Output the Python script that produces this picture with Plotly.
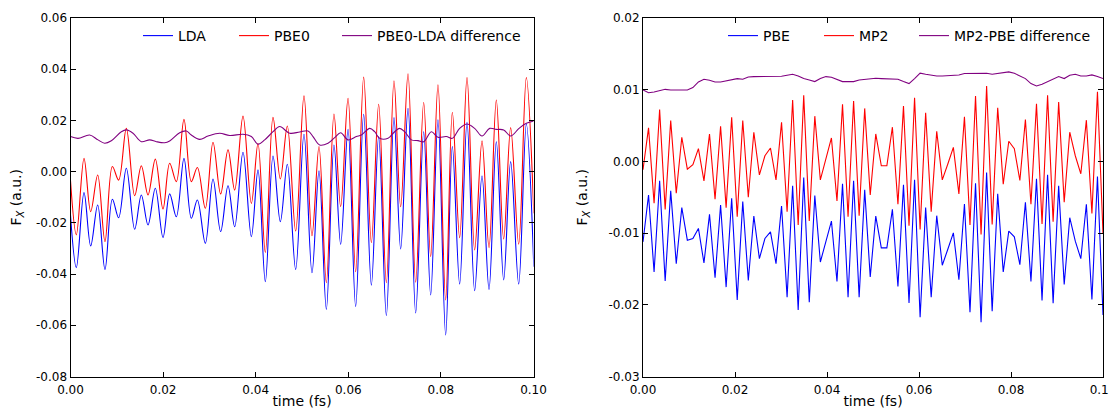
import plotly.graph_objects as go

# ---------------- Left panel: LDA / PBE0 (extrema) -------------
time_left = [0.0, 0.00126, 0.00292, 0.00436, 0.00587, 0.00745, 0.00904, 0.01040,
             0.01206, 0.01386, 0.01530, 0.01674, 0.01832, 0.01998, 0.02142, 0.02286,
             0.02451, 0.02610, 0.02740, 0.02912, 0.03078, 0.03243, 0.03402, 0.03546,
             0.03726, 0.03906, 0.04050, 0.04208, 0.04374, 0.04532, 0.04683, 0.04863,
             0.05043, 0.05216, 0.05367, 0.05526, 0.05691, 0.05835, 0.05994, 0.06159,
             0.06332, 0.06498, 0.06656, 0.06822, 0.06987, 0.07131, 0.07290, 0.07455,
             0.07628, 0.07779, 0.07937, 0.08103, 0.08247, 0.08405, 0.08564, 0.08729,
             0.08888, 0.09039, 0.09197, 0.09356, 0.09507, 0.09680, 0.09845, 0.10006]

lda = [-0.0170, -0.0375, -0.0082, -0.0290, -0.0130, -0.0382, -0.0108, -0.0180,
       0.0013, -0.0225, -0.0091, -0.0208, -0.0065, -0.0257, -0.0087, -0.0176,
       0.0052, -0.0182, -0.0111, -0.0280, -0.0029, -0.0234, -0.0055, -0.0215,
       0.0076, -0.0254, 0.0007, -0.0430, 0.0061, -0.0195, 0.0029, -0.0382,
       0.0146, -0.0395, 0.0003, -0.0538, 0.0104, -0.0284, 0.0165, -0.0527,
       0.0224, -0.0443, 0.0137, -0.0563, 0.0211, -0.0302, 0.0247, -0.0552,
       0.0156, -0.0482, 0.0202, -0.0638, 0.0098, -0.0439, 0.0193, -0.0465,
       -0.0016, -0.0460, 0.0117, -0.0423, 0.0039, -0.0439, 0.0186, -0.0371]

pbe0 = [-0.0035, -0.0247, 0.0052, -0.0156, -0.0013, -0.0273, 0.0020, -0.0033,
        0.0169, -0.0094, 0.0023, -0.0091, 0.0049, -0.0146, 0.0033, -0.0039,
        0.0204, -0.0039, 0.0016, -0.0143, 0.0115, -0.0087, 0.0085, -0.0072,
        0.0217, -0.0124, 0.0111, -0.0316, 0.0212, -0.0029, 0.0178, -0.0232,
        0.0296, -0.0250, 0.0098, -0.0434, 0.0225, -0.0137, 0.0286, -0.0391,
        0.0369, -0.0277, 0.0263, -0.0434, 0.0355, -0.0137, 0.0382, -0.0432,
        0.0270, -0.0332, 0.0339, -0.0501, 0.0232, -0.0258, 0.0367, -0.0306,
        0.0120, -0.0297, 0.0280, -0.0263, 0.0172, -0.0283, 0.0367, -0.0163]

time_diff_left = [0.0, 0.00162, 0.00414, 0.00594, 0.00738, 0.00882, 0.01098, 0.01206,
                  0.01350, 0.01530, 0.01710, 0.01854, 0.02034, 0.02142, 0.02358, 0.02502,
                  0.02610, 0.02790, 0.02970, 0.03222, 0.03438, 0.03726, 0.03906, 0.04050,
                  0.04194, 0.04374, 0.04518, 0.04734, 0.04950, 0.05130, 0.05238, 0.05382,
                  0.05562, 0.05706, 0.05835, 0.05994, 0.06174, 0.06282, 0.06462, 0.06570,
                  0.06678, 0.06858, 0.07002, 0.07110, 0.07218, 0.07362, 0.07506, 0.07628,
                  0.07794, 0.07937, 0.08117, 0.08247, 0.08405, 0.08564, 0.08729, 0.08888,
                  0.09054, 0.09197, 0.09356, 0.09507, 0.09687, 0.09845, 0.10006]

pbe0_lda_diff = [0.0137, 0.0130, 0.0143, 0.0124, 0.0111, 0.0121, 0.0156, 0.0163,
                 0.0150, 0.0117, 0.0124, 0.0117, 0.0113, 0.0120, 0.0152, 0.0159,
                 0.0143, 0.0126, 0.0139, 0.0150, 0.0141, 0.0146, 0.0137, 0.0107,
                 0.0124, 0.0156, 0.0176, 0.0150, 0.0155, 0.0159, 0.0137, 0.0104,
                 0.0111, 0.0133, 0.0152, 0.0124, 0.0137, 0.0143, 0.0169, 0.0156,
                 0.0130, 0.0130, 0.0156, 0.0169, 0.0156, 0.0124, 0.0121, 0.0117,
                 0.0156, 0.0134, 0.0137, 0.0130, 0.0169, 0.0186, 0.0169, 0.0139,
                 0.0169, 0.0165, 0.0163, 0.0139, 0.0169, 0.0189, 0.0198]

# ---------------- Right panel: PBE / MP2 (sampled every 0.1/83 fs) -------------------
n_steps = 84
time_right = [i * 0.1 / (n_steps - 1) for i in range(n_steps)]

pbe = [-0.01122, -0.00468, -0.01543, -0.00271, -0.01669, -0.00411, -0.01426, -0.00645, -0.01099, -0.01075,
       -0.00935, -0.01417, -0.00739, -0.01622, -0.00608, -0.01753, -0.00514, -0.01931, -0.00561, -0.01660,
       -0.00762, -0.01356, -0.01075, -0.00982, -0.01426, -0.00622, -0.01893, -0.00341, -0.02071, -0.00224,
       -0.01964, -0.00477, -0.01403, -0.01122, -0.00832, -0.01674, -0.00313, -0.01893, -0.00271, -0.01893,
       -0.00397, -0.01613, -0.00762, -0.01206, -0.01206, -0.00669, -0.01744, -0.00327, -0.01973, -0.00257,
       -0.02174, -0.00645, -0.01893, -0.00757, -0.01449, -0.01225, -0.00996, -0.01650, -0.00594, -0.02104,
       -0.00304, -0.02244, -0.00154, -0.02090, -0.00453, -0.01543, -0.00972, -0.01052, -0.01440, -0.00570,
       -0.01674, -0.00243, -0.01940, -0.00187, -0.01978, -0.00341, -0.01716, -0.00785, -0.01113, -0.01356,
       -0.00598, -0.01926, -0.00210, -0.02141]

mp2 = [-0.00117, 0.00468, -0.00584, 0.00725, -0.00669, 0.00570, -0.00444, 0.00337, -0.00108, -0.00047,
       0.00178, -0.00271, 0.00383, -0.00528, 0.00491, -0.00645, 0.00617, -0.00771, 0.00570, -0.00500,
       0.00407, -0.00187, 0.00079, 0.00187, -0.00257, 0.00547, -0.00701, 0.00856, -0.00888, 0.00921,
       -0.00832, 0.00631, -0.00257, 0.00033, 0.00327, -0.00552, 0.00795, -0.00771, 0.00842, -0.00757,
       0.00739, -0.00468, 0.00383, -0.00061, -0.00061, 0.00477, -0.00598, 0.00771, -0.00898, 0.00888,
       -0.00949, 0.00678, -0.00701, 0.00421, -0.00257, -0.00037, 0.00196, -0.00453, 0.00622, -0.00888,
       0.00912, -0.01019, 0.01052, -0.00879, 0.00748, -0.00318, 0.00281, 0.00178, -0.00266, 0.00584,
       -0.00598, 0.00804, -0.00874, 0.00921, -0.00842, 0.00827, -0.00570, 0.00407, 0.00079, -0.00173,
       0.00575, -0.00725, 0.00972, -0.01005]

mp2_pbe_diff = [0.00996, 0.00958, 0.00968, 0.00982, 0.01005, 0.00996, 0.01000, 0.00996, 0.00996, 0.01029,
                0.01108, 0.01145, 0.01131, 0.01108, 0.01108, 0.01122, 0.01136, 0.01155, 0.01145, 0.01178,
                0.01183, 0.01183, 0.01183, 0.01183, 0.01183, 0.01187, 0.01201, 0.01216, 0.01192, 0.01155,
                0.01136, 0.01113, 0.01155, 0.01183, 0.01173, 0.01145, 0.01113, 0.01113, 0.01113, 0.01136,
                0.01145, 0.01155, 0.01159, 0.01155, 0.01155, 0.01150, 0.01145, 0.01113, 0.01085, 0.01155,
                0.01230, 0.01216, 0.01201, 0.01192, 0.01192, 0.01197, 0.01201, 0.01206, 0.01225, 0.01225,
                0.01225, 0.01230, 0.01230, 0.01216, 0.01225, 0.01239, 0.01248, 0.01230, 0.01192, 0.01155,
                0.01085, 0.01052, 0.01075, 0.01108, 0.01145, 0.01183, 0.01155, 0.01201, 0.01216, 0.01192,
                0.01192, 0.01206, 0.01183, 0.01155]

# ---------------- Tick labels -----------------------------------------------------------
x_ticks = [0.0, 0.02, 0.04, 0.06, 0.08, 0.10]
x_ticktext = ["0.00", "0.02", "0.04", "0.06", "0.08", "0.10"]
y_left_ticks = [-0.08, -0.06, -0.04, -0.02, 0.0, 0.02, 0.04, 0.06]
y_left_ticktext = ["-0.08", "-0.06", "-0.04", "-0.02", "0.00", "0.02", "0.04", "0.06"]
y_right_ticks = [-0.03, -0.02, -0.01, 0.0, 0.01, 0.02]
y_right_ticktext = ["-0.03", "-0.02", "-0.01", "0.00", "0.01", "0.02"]

BLUE = "#0000ff"
RED = "#ff0000"
PURPLE = "#800080"
FONT = "DejaVu Sans"
LW = 1.1

# The page body adds an 8px margin, so the figure is positioned to compensate.
OFF = 8
W, H = 1117, 409 - OFF


def px(x):
    return (x - OFF) / W


def py(y):
    return 1 - (y - OFF) / H


fig = go.Figure()

fig.add_trace(go.Scatter(x=time_left, y=lda, mode="lines", name="LDA", legendwidth=51,
                         line=dict(color=BLUE, width=LW, shape="spline", smoothing=1.0),
                         xaxis="x", yaxis="y", legend="legend"))
fig.add_trace(go.Scatter(x=time_left, y=pbe0, mode="lines", name="PBE0", legendwidth=58,
                         line=dict(color=RED, width=LW, shape="spline", smoothing=1.0),
                         xaxis="x", yaxis="y", legend="legend"))
fig.add_trace(go.Scatter(x=time_diff_left, y=pbe0_lda_diff, mode="lines", name="PBE0-LDA difference",
                         line=dict(color=PURPLE, width=LW, shape="spline", smoothing=1.0),
                         xaxis="x", yaxis="y", legend="legend"))

fig.add_trace(go.Scatter(x=time_right, y=pbe, mode="lines", name="PBE", legendwidth=51,
                         line=dict(color=BLUE, width=LW),
                         xaxis="x2", yaxis="y2", legend="legend2"))
fig.add_trace(go.Scatter(x=time_right, y=mp2, mode="lines", name="MP2", legendwidth=50,
                         line=dict(color=RED, width=LW),
                         xaxis="x2", yaxis="y2", legend="legend2"))
fig.add_trace(go.Scatter(x=time_right, y=mp2_pbe_diff, mode="lines", name="MP2-PBE difference",
                         line=dict(color=PURPLE, width=LW),
                         xaxis="x2", yaxis="y2", legend="legend2"))

ydom = [py(376.5), py(18)]

axis_common = dict(showline=True, linecolor="black", linewidth=1, mirror="allticks",
                   ticks="inside", ticklen=5, tickcolor="black", tickwidth=1,
                   showgrid=False, zeroline=False, automargin=False,
                   ticklabeloverflow="allow",
                   tickfont=dict(family=FONT, size=12, color="black"))

title_font = dict(family=FONT, size=14, color="black")

fig.update_layout(
    width=W, height=H,
    margin=dict(l=0, r=0, t=0, b=0),
    paper_bgcolor="white", plot_bgcolor="white",
    font=dict(family=FONT, color="black"),
    xaxis=dict(domain=[px(70.5), px(533.5)], range=[0, 0.1], anchor="y",
               tickvals=x_ticks, ticktext=x_ticktext, ticklabelstandoff=2,
               title=dict(text="time (fs)", font=title_font, standoff=8),
               **axis_common),
    yaxis=dict(domain=ydom, range=[-0.08, 0.06], anchor="x",
               tickvals=y_left_ticks, ticktext=y_left_ticktext,
               title=dict(text="F<sub><i>X</i></sub> (a.u.)", font=title_font, standoff=17),
               **axis_common),
    xaxis2=dict(domain=[px(643), px(1103)], range=[0, 0.1], anchor="y2",
                tickvals=x_ticks, ticktext=x_ticktext, ticklabelstandoff=2,
                title=dict(text="time (fs)", font=title_font, standoff=8),
                **axis_common),
    yaxis2=dict(domain=ydom, range=[-0.03, 0.02], anchor="x2",
                tickvals=y_right_ticks, ticktext=y_right_ticktext,
                title=dict(text="F<sub><i>X</i></sub> (a.u.)", font=title_font, standoff=17),
                **axis_common),
    legend=dict(orientation="h", x=px(138), xanchor="left", y=py(20), yanchor="top",
                bgcolor="rgba(0,0,0,0)", borderwidth=0,
                font=dict(family=FONT, size=14, color="black")),
    legend2=dict(orientation="h", x=px(723), xanchor="left", y=py(20), yanchor="top",
                 bgcolor="rgba(0,0,0,0)", borderwidth=0,
                 font=dict(family=FONT, size=14, color="black")),
    showlegend=True,
)

fig.write_html("out.html")
